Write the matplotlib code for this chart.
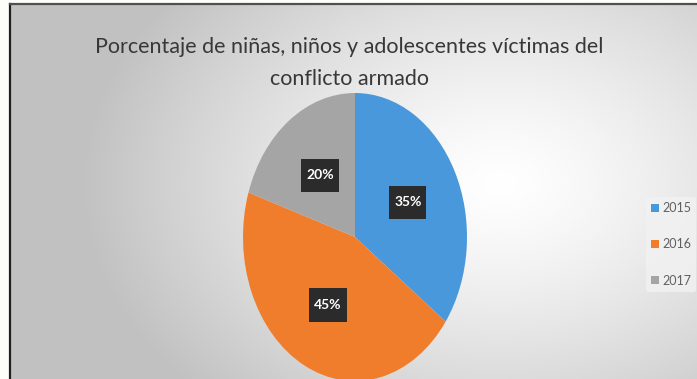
import matplotlib
matplotlib.use('Agg')
import matplotlib.pyplot as plt
import numpy as np

years = ['2015', '2016', '2017']
shares = [35, 45, 20]
colors = ['#4a98dc', '#f07d2c', '#a5a5a5']
title = 'Porcentaje de niñas, niños y adolescentes víctimas del\nconflicto armado'

W, H = 697, 379
fig = plt.figure(figsize=(W / 100, H / 100), dpi=100)
fig.patch.set_facecolor('#fdfdf9')

# background panel with radial gradient
bg = fig.add_axes([10 / W, 0, 1 - 10 / W, 1 - 4 / H])
yy, xx = np.mgrid[0:200, 0:400]
r = np.sqrt(((xx - 285) / 250.0) ** 2 + ((yy - 95) / 165.0) ** 2)
v = np.clip(1 - 0.25 * r ** 1.3, 0.76, 1)
bg.imshow(np.dstack([v, v, v]), aspect='auto', extent=[0, 1, 0, 1])
bg.set_xlim(0, 1)
bg.set_ylim(0, 1)
bg.axis('off')
fig.add_artist(plt.Line2D([10 / W, 10 / W], [0, 1 - 4 / H], color='#202020', lw=1.6))
fig.add_artist(plt.Line2D([10 / W, 1], [1 - 4 / H, 1 - 4 / H], color='#505050', lw=1.6))

fig.text(349 / W, 1 - 63 / H, title, ha='center', va='center', fontsize=15.5,
         family='Lato', color='#383838', linespacing=1.8)

ax = fig.add_axes([243 / W, (H - 381) / H, 224 / W, 288 / H])
wedges, texts, autotexts = ax.pie(shares, colors=colors, startangle=90, counterclock=False,
                                  autopct='%1.0f%%', pctdistance=0.53, radius=1,
                                  wedgeprops=dict(linewidth=0),
                                  textprops=dict(color='white', fontsize=10,
                                                 fontweight='bold', family='Lato'))
for t in autotexts:
    t.set_bbox(dict(boxstyle='square,pad=0.35', facecolor='#2b2b2b', edgecolor='none',
                    mutation_aspect=2.2))
ax.set_aspect('auto')
ax.set_xlim(-1, 1)
ax.set_ylim(-1, 1)

leg = fig.legend(wedges, years, loc='upper left', bbox_to_anchor=(646 / W, 1 - 197 / H),
                 frameon=True, handlelength=0.6, handleheight=0.6,
                 handletextpad=0.3, labelspacing=1.95, borderpad=0.4, borderaxespad=0,
                 prop=dict(family='Lato', size=9))
leg.get_frame().set_facecolor('#f2f2f2')
leg.get_frame().set_edgecolor('none')
for t in leg.get_texts():
    t.set_color('#606060')

fig.savefig('out.png', dpi=100)
